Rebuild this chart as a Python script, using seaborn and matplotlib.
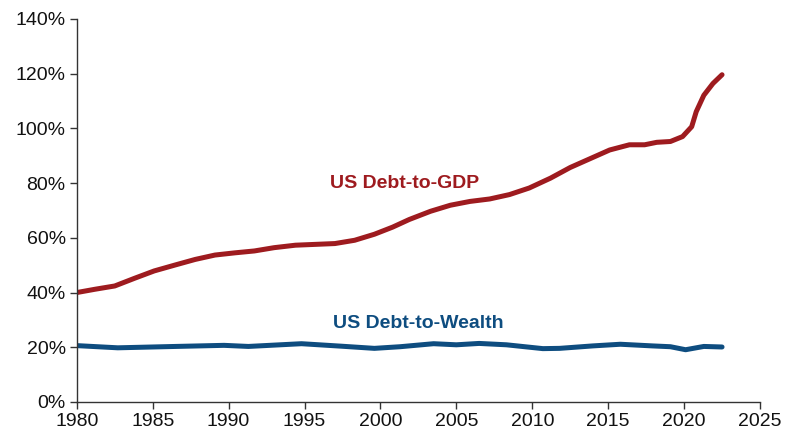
import matplotlib
matplotlib.use("Agg")
import matplotlib.pyplot as plt
import seaborn as sns
import pandas as pd
from matplotlib.ticker import FuncFormatter, MultipleLocator

gdp_years = [1980, 1981.2, 1982.5, 1983.8, 1985.1, 1986.5, 1987.8, 1989.1, 1990.4, 1991.7,
             1993.0, 1994.4, 1995.7, 1997.0, 1998.3, 1999.6, 2000.8, 2001.9, 2003.3, 2004.6,
             2005.9, 2007.2, 2008.5, 2009.8, 2011.2, 2012.5, 2013.8, 2015.1, 2016.4, 2017.4,
             2018.2, 2019.1, 2019.9, 2020.5, 2020.8, 2021.3, 2021.9, 2022.5]
gdp_values = [40.0, 41.2, 42.4, 45.2, 47.9, 50.1, 52.1, 53.7, 54.5, 55.2,
              56.4, 57.3, 57.6, 57.9, 59.1, 61.3, 63.9, 66.7, 69.7, 71.9,
              73.3, 74.2, 75.8, 78.2, 81.8, 85.7, 88.9, 92.1, 94.0, 94.0,
              94.9, 95.2, 97.0, 100.6, 106.1, 112.1, 116.4, 119.6]

wealth_years = [1980, 1982.7, 1986.5, 1989.7, 1991.3, 1994.8, 1997.4, 1999.6, 2001.3, 2003.5,
                2005.0, 2006.5, 2008.3, 2010.7, 2011.8, 2014.0, 2015.8, 2017.9, 2019.1, 2020.1,
                2021.3, 2022.5]
wealth_values = [20.6, 19.8, 20.3, 20.7, 20.3, 21.3, 20.4, 19.6, 20.2, 21.3,
                 20.9, 21.4, 20.9, 19.5, 19.6, 20.5, 21.1, 20.5, 20.2, 19.1,
                 20.3, 20.1]

red = "#9E1B1F"
blue = "#0E4D80"

sns.set_theme(style="white")
plt.rcParams['font.family'] = ['Liberation Sans', 'DejaVu Sans']

df_gdp = pd.DataFrame({"year": gdp_years, "value": gdp_values})
df_w = pd.DataFrame({"year": wealth_years, "value": wealth_values})

fig = plt.figure(figsize=(8, 4.47), dpi=100)
ax = fig.add_axes([0.096, 0.1007, 0.854, 0.857])

sns.lineplot(data=df_gdp, x="year", y="value", ax=ax, color=red, linewidth=3.6,
             solid_capstyle="round", solid_joinstyle="round")
sns.lineplot(data=df_w, x="year", y="value", ax=ax, color=blue, linewidth=3.6,
             solid_capstyle="round", solid_joinstyle="round")

ax.set_xlim(1980, 2025)
ax.set_ylim(0, 140)
ax.xaxis.set_major_locator(MultipleLocator(5))
ax.yaxis.set_major_locator(MultipleLocator(20))
ax.yaxis.set_major_formatter(FuncFormatter(lambda v, p: f"{v:.0f}%"))
ax.set_xlabel("")
ax.set_ylabel("")

for s in ["top", "right"]:
    ax.spines[s].set_visible(False)
for s in ["left", "bottom"]:
    ax.spines[s].set_color("#333333")
    ax.spines[s].set_linewidth(1.0)

ax.tick_params(axis="both", which="major", direction="out", length=5, width=1,
               color="#333333", labelsize=14, labelcolor="#111111", pad=3,
               bottom=True, left=True)

ax.text(2001.6, 79.7, "US Debt-to-GDP", color=red, fontsize=14, fontweight="bold",
        ha="center", va="center")
ax.text(2002.5, 28.6, "US Debt-to-Wealth", color=blue, fontsize=14, fontweight="bold",
        ha="center", va="center")

fig.savefig("out.png", dpi=100)
